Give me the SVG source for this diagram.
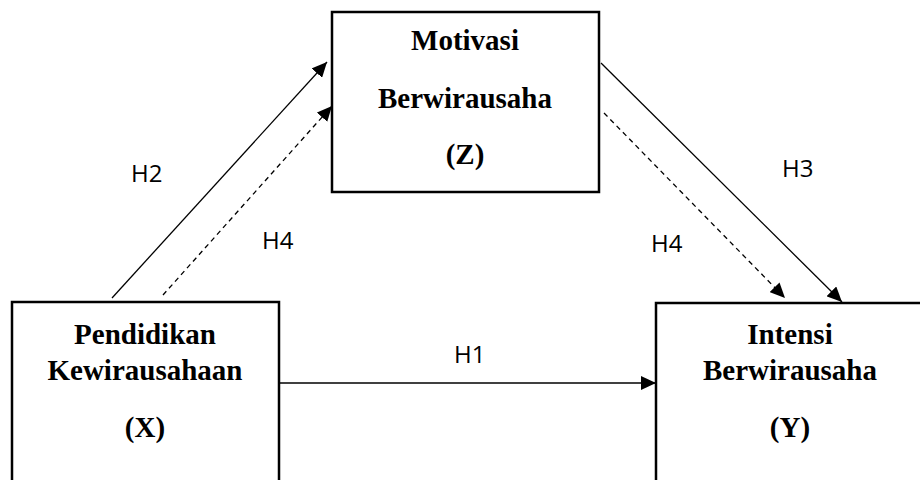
<svg xmlns="http://www.w3.org/2000/svg" width="920" height="480" viewBox="0 0 920 480">
<defs>
<style>
.box{fill:#fff;stroke:#000;stroke-width:2.5}
.t{font-family:"Liberation Serif","Times New Roman",serif;font-weight:bold;font-size:29px;text-anchor:middle;fill:#000}
.lbl{font-family:"Open Sans","Liberation Sans",sans-serif;font-size:24px;fill:#000}
.ln{stroke:#000;stroke-width:1.3;fill:none}
.dash{stroke-dasharray:5,4}
</style>
<marker id="ah" markerUnits="userSpaceOnUse" markerWidth="15" markerHeight="14" refX="15" refY="7" orient="auto">
<path d="M0,0 L15,7 L0,14 Z" fill="#000"/>
</marker>
</defs>
<rect width="920" height="480" fill="#fff"/>
<g id="connectors">
<line class="ln" x1="112" y1="298" x2="327" y2="62" marker-end="url(#ah)"/>
<line class="ln dash" x1="163" y1="295" x2="332" y2="106" marker-end="url(#ah)"/>
<line class="ln" x1="601" y1="63" x2="842" y2="302" marker-end="url(#ah)"/>
<line class="ln dash" x1="604" y1="113" x2="785" y2="298" marker-end="url(#ah)"/>
<line class="ln" x1="279" y1="383" x2="656" y2="383" marker-end="url(#ah)"/>
<text class="lbl" x="131" y="182">H2</text>
<text class="lbl" x="262" y="249">H4</text>
<text class="lbl" x="782" y="177">H3</text>
<text class="lbl" x="651" y="252">H4</text>
<text class="lbl" x="454" y="363">H1</text>
</g>
<g id="nodeZ">
<rect class="box" x="332" y="12" width="267" height="180"/>
<text class="t" x="465" y="50">Motivasi</text>
<text class="t" x="465" y="108">Berwirausaha</text>
<text class="t" x="465" y="164">(Z)</text>
</g>
<g id="nodeX">
<rect class="box" x="12" y="302" width="267" height="200"/>
<text class="t" x="145" y="344">Pendidikan</text>
<text class="t" x="145" y="380">Kewirausahaan</text>
<text class="t" x="145" y="437">(X)</text>
</g>
<g id="nodeY">
<rect class="box" x="656" y="303" width="300" height="200"/>
<text class="t" x="790" y="344">Intensi</text>
<text class="t" x="790" y="380">Berwirausaha</text>
<text class="t" x="790" y="437">(Y)</text>
</g>
</svg>
